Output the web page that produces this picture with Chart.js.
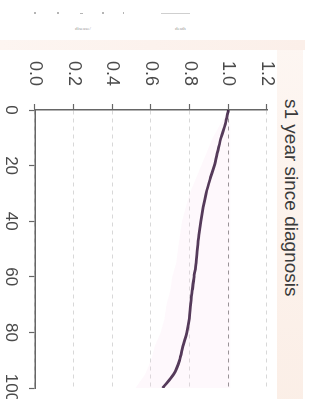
<!DOCTYPE html>
<html>
<head>
<meta charset="utf-8">
<script src="https://cdn.jsdelivr.net/npm/chart.js@4.4.1/dist/chart.umd.min.js"></script>
<style>
  html, body { margin: 0; padding: 0; }
  body { width: 312px; height: 399px; overflow: hidden; background: #fff; position: relative; font-family: "Liberation Sans", Arial, sans-serif; }
  .note { position: absolute; font-size: 5px; color: #9a9a9a; font-family: "Liberation Serif", serif; }
  .dot { position: absolute; width: 2px; height: 2px; background: #b5b5b5; top: 12px; }
  #rot { position: absolute; left: 305px; top: 40px; width: 380px; height: 305px; transform-origin: 0 0; transform: rotate(90deg); background: #fff; }
  #band1 { position: absolute; left: 0; top: 2px; width: 380px; height: 26px; background: linear-gradient(to right, #fdf6f2, #fbeee6); }
  #band2 { position: absolute; left: 0; top: 0; width: 10px; height: 305px; background: linear-gradient(to bottom, #fbefe9, #fdf5f1); }
  #title { position: absolute; left: 59px; top: 3px; font-size: 19px; color: #3a3a3a; white-space: nowrap; }
  canvas { position: absolute; left: 0; top: 0; }
</style>
</head>
<body>
<div class="dot" style="left:34px"></div>
<div class="dot" style="left:57px"></div>
<div class="dot" style="left:80px;width:3px;height:1px;top:13px"></div>
<div class="dot" style="left:102px"></div>
<div class="dot" style="left:123px;width:1px"></div>
<div class="dot" style="left:161px;width:29px;height:1px;top:13px;background:#cfcfcf"></div>
<div class="note" style="left:75px;top:26px">disease/</div>
<div class="note" style="left:175px;top:26px">death</div>

<div id="rot">
  <div id="band1"></div>
  <div id="band2"></div>
  <div id="title">s1 year since diagnosis</div>
  <canvas id="survChart" width="380" height="305"></canvas>
</div>

<script>
// values (time in % of follow-up, survival proportion)
const times    = [0, 5, 10, 15, 20, 25, 30, 35, 40, 45, 50, 55, 60, 65, 70, 75, 80, 85, 90, 95, 100];
const survival = [1.00, 0.985, 0.962, 0.945, 0.928, 0.905, 0.885, 0.870, 0.858, 0.848, 0.840, 0.833, 0.823, 0.813, 0.805, 0.798, 0.785, 0.765, 0.748, 0.718, 0.660];
const upperCI  = [1.00, 1.01, 1.01, 1.01, 1.01, 1.01, 1.01, 1.01, 1.01, 1.01, 1.01, 1.01, 1.01, 1.01, 1.01, 1.01, 1.01, 1.01, 1.01, 1.01, 1.01];
const lowerCI  = [1.00, 0.96, 0.92, 0.89, 0.86, 0.83, 0.80, 0.78, 0.76, 0.75, 0.74, 0.73, 0.71, 0.70, 0.68, 0.67, 0.65, 0.62, 0.60, 0.57, 0.52];
const timeTicks = [0, 20, 40, 60, 80, 100];
const survTicks = [0.0, 0.2, 0.4, 0.6, 0.8, 1.0, 1.2];

const pts = arr => times.map((t, i) => ({ x: t, y: arr[i] }));

function initChart() {
    const ctx = document.getElementById('survChart')?.getContext('2d');
    if (!ctx) return;

    new Chart(ctx, {
        type: 'line',
        data: {
            datasets: [
                {
                    label: 'upper',
                    data: pts(upperCI),
                    borderWidth: 0,
                    pointRadius: 0,
                    fill: false
                },
                {
                    label: 'lower',
                    data: pts(lowerCI),
                    borderWidth: 0,
                    pointRadius: 0,
                    backgroundColor: 'rgba(246, 205, 236, 0.14)',
                    fill: '-1'
                },
                {
                    label: 's1',
                    data: pts(survival),
                    borderColor: '#3b2243',
                    borderWidth: 2.8,
                    pointRadius: 0,
                    tension: 0.3,
                    fill: false
                }
            ]
        },
        options: {
            responsive: false,
            animation: false,
            layout: { padding: { left: 0, top: 38, right: 32, bottom: 0 } },
            plugins: {
                legend: { display: false },
                tooltip: { enabled: false }
            },
            scales: {
                x: {
                    type: 'linear',
                    min: 0,
                    max: 100,
                    afterBuildTicks: s => { s.ticks = timeTicks.map(v => ({ value: v })); },
                    afterFit: s => { s.height = 35; },
                    border: { display: true, color: '#666', width: 1.5 },
                    grid: { drawOnChartArea: false, drawTicks: true, tickLength: 6, tickColor: '#666', tickWidth: 1.2 },
                    ticks: {
                        maxRotation: 0,
                        padding: 8,
                        color: '#4a4a4a',
                        font: { family: 'Liberation Sans', size: 17 }
                    }
                },
                y: {
                    min: 0,
                    max: 1.2,
                    afterBuildTicks: s => { s.ticks = survTicks.map(v => ({ value: v })); },
                    afterFit: s => { s.width = 70; },
                    border: { display: true, color: '#666', width: 1.5, dash: [4, 4] },
                    grid: {
                        drawOnChartArea: true,
                        drawTicks: true,
                        tickLength: 6,
                        tickColor: '#666',
                        tickWidth: 1.2,
                        lineWidth: 1,
                        color: c => (c.tick && Math.abs(c.tick.value - 1) < 1e-6) ? '#8a8a8a' : '#d8d8d8'
                    },
                    ticks: {
                        padding: 18,
                        color: '#4a4a4a',
                        font: { family: 'Liberation Sans', size: 18 },
                        callback: v => v.toFixed(1)
                    }
                }
            }
        }
    });
}

document.addEventListener('DOMContentLoaded', () => {
    initChart();
});
</script>
</body>
</html>
